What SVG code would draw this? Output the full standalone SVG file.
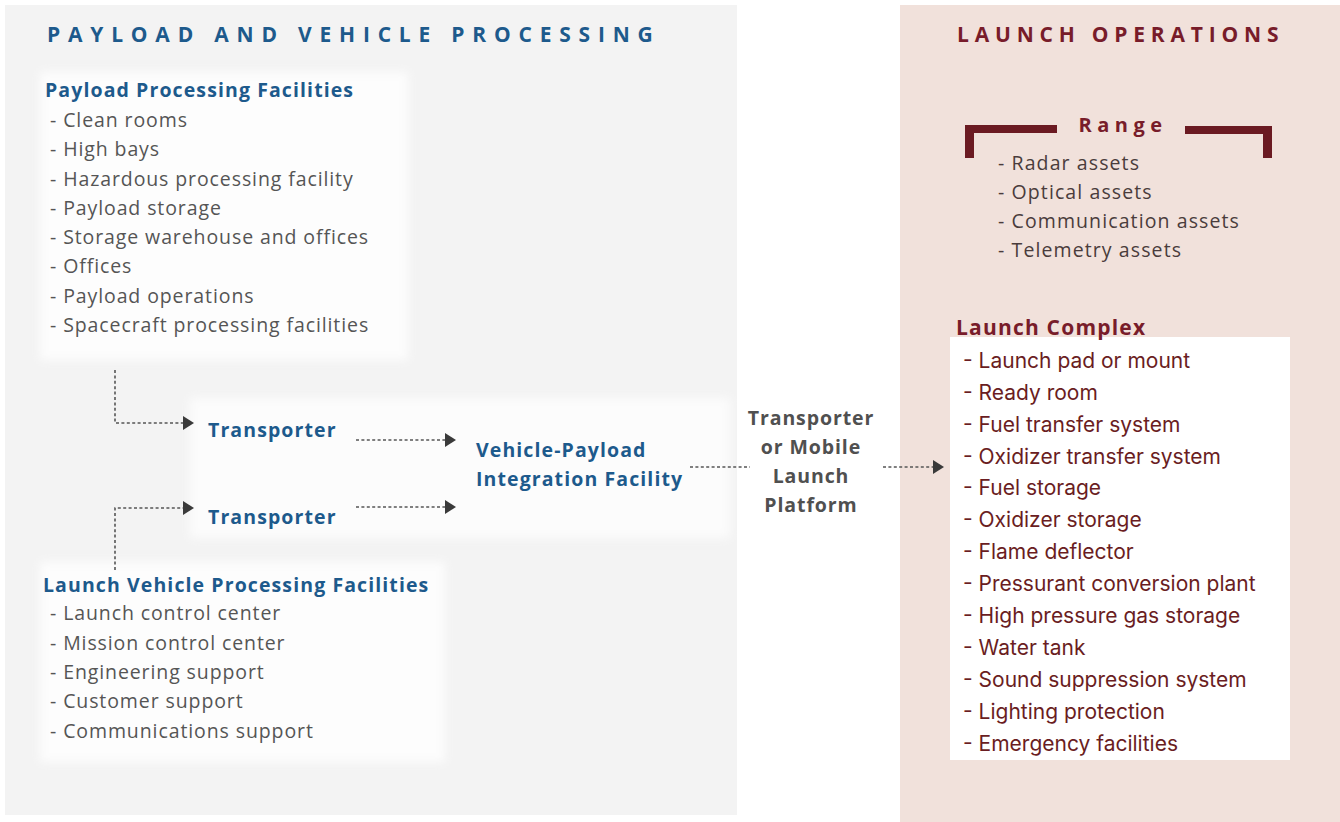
<svg xmlns="http://www.w3.org/2000/svg" width="1340" height="822" viewBox="0 0 1340 822">
  <defs>
    <filter id="soft" x="-10%" y="-10%" width="120%" height="120%">
      <feGaussianBlur stdDeviation="5"/>
    </filter>
    <marker id="tri" markerUnits="userSpaceOnUse" markerWidth="12" markerHeight="14" refX="1" refY="7" orient="auto">
      <path d="M0,0 L11,7 L0,14 z" fill="#3a3a3a"/>
    </marker>
    <style>
      .sec { font-family: "Open Sans", "Liberation Sans", sans-serif; font-weight: 700; font-size: 21px; }
      .blue { fill: #1d5a8c; }
      .red { fill: #781c2a; }
      .head { font-family: "Open Sans", "Liberation Sans", sans-serif; font-weight: 700; font-size: 19.5px; letter-spacing: 1.1px; }
      .item { font-family: "Open Sans", "Liberation Sans", sans-serif; font-size: 19.5px; fill: #555555; letter-spacing: 0.9px; }
      .ritem { font-family: "Open Sans", "Liberation Sans", sans-serif; font-size: 19.5px; fill: #4a3c3c; letter-spacing: 1.1px; }
      .lc { font-family: Inter, "Liberation Sans", sans-serif; font-size: 21px; fill: #6a1d22; }
      .mid { font-family: "Open Sans", "Liberation Sans", sans-serif; font-weight: 700; font-size: 19.5px; letter-spacing: 0.9px; fill: #505050; text-anchor: middle; }
      .dot { fill: none; stroke: #555; stroke-width: 1.6; stroke-dasharray: 3 2.4; }
    </style>
  </defs>

  <!-- page background -->
  <rect x="0" y="0" width="1340" height="822" fill="#ffffff"/>

  <!-- left panel: payload and vehicle processing -->
  <g id="panel-processing">
    <rect x="5" y="5" width="732" height="810" fill="#f3f3f3"/>
    <g filter="url(#soft)">
      <rect x="40" y="72" width="368" height="288" fill="#fdfdfd"/>
      <rect x="190" y="398" width="540" height="140" fill="#fcfcfc"/>
      <rect x="40" y="562" width="405" height="200" fill="#fdfdfd"/>
    </g>
    <text class="sec blue" x="47" y="42" style="letter-spacing:7.8px">PAYLOAD AND VEHICLE PROCESSING</text>
  </g>

  <!-- right panel: launch operations -->
  <g id="panel-launch">
    <rect x="900" y="5" width="440" height="817" fill="#f1e1db"/>
    <text class="sec red" x="957" y="42" style="letter-spacing:5.8px">LAUNCH OPERATIONS</text>
  </g>

  <!-- payload processing facilities -->
  <g id="payload-facilities">
    <text class="head blue" x="45" y="97">Payload Processing Facilities</text>
    <text class="item" x="50" y="127">- Clean rooms</text>
    <text class="item" x="50" y="156">- High bays</text>
    <text class="item" x="50" y="186">- Hazardous processing facility</text>
    <text class="item" x="50" y="215">- Payload storage</text>
    <text class="item" x="50" y="244">- Storage warehouse and offices</text>
    <text class="item" x="50" y="273">- Offices</text>
    <text class="item" x="50" y="303">- Payload operations</text>
    <text class="item" x="50" y="332">- Spacecraft processing facilities</text>
  </g>

  <!-- transporters -->
  <g id="transporter-payload">
    <text class="head blue" x="208" y="437">Transporter</text>
  </g>
  <g id="transporter-vehicle">
    <text class="head blue" x="208" y="524">Transporter</text>
  </g>

  <!-- integration facility -->
  <g id="integration-facility">
    <text class="head blue" x="476" y="457">Vehicle-Payload</text>
    <text class="head blue" x="476" y="486">Integration Facility</text>
  </g>

  <!-- mobile launch platform -->
  <g id="mobile-platform">
    <text class="mid" x="811" y="425">Transporter</text>
    <text class="mid" x="811" y="454">or Mobile</text>
    <text class="mid" x="811" y="483">Launch</text>
    <text class="mid" x="811" y="512">Platform</text>
  </g>

  <!-- launch vehicle processing facilities -->
  <g id="vehicle-facilities">
    <text class="head blue" x="43" y="592">Launch Vehicle Processing Facilities</text>
    <text class="item" x="50" y="620">- Launch control center</text>
    <text class="item" x="50" y="650">- Mission control center</text>
    <text class="item" x="50" y="679">- Engineering support</text>
    <text class="item" x="50" y="708">- Customer support</text>
    <text class="item" x="50" y="738">- Communications support</text>
  </g>

  <!-- range -->
  <g id="range">
    <rect x="965" y="125" width="92" height="8" fill="#6b1a22"/>
    <rect x="965" y="125" width="9" height="33" fill="#6b1a22"/>
    <rect x="1185" y="126" width="87" height="8" fill="#6b1a22"/>
    <rect x="1263" y="126" width="9" height="32" fill="#6b1a22"/>
    <text class="sec red" x="1123" y="132" text-anchor="middle" style="font-size:20px;letter-spacing:5.5px">Range</text>
    <text class="ritem" x="998" y="170">- Radar assets</text>
    <text class="ritem" x="998" y="199">- Optical assets</text>
    <text class="ritem" x="998" y="228">- Communication assets</text>
    <text class="ritem" x="998" y="257">- Telemetry assets</text>
  </g>

  <!-- launch complex -->
  <g id="launch-complex">
    <rect x="950" y="337" width="340" height="423" fill="#ffffff"/>
    <text class="head red" x="956" y="335" style="font-size:21px;letter-spacing:1.2px">Launch Complex</text>
    <text class="lc" x="963" y="368">- Launch pad or mount</text>
    <text class="lc" x="963" y="400">- Ready room</text>
    <text class="lc" x="963" y="432">- Fuel transfer system</text>
    <text class="lc" x="963" y="464">- Oxidizer transfer system</text>
    <text class="lc" x="963" y="495">- Fuel storage</text>
    <text class="lc" x="963" y="527">- Oxidizer storage</text>
    <text class="lc" x="963" y="559">- Flame deflector</text>
    <text class="lc" x="963" y="591">- Pressurant conversion plant</text>
    <text class="lc" x="963" y="623">- High pressure gas storage</text>
    <text class="lc" x="963" y="655">- Water tank</text>
    <text class="lc" x="963" y="687">- Sound suppression system</text>
    <text class="lc" x="963" y="719">- Lighting protection</text>
    <text class="lc" x="963" y="751">- Emergency facilities</text>
  </g>

  <!-- connectors -->
  <g id="connectors">
    <path class="dot" d="M115,370 V423 H184" marker-end="url(#tri)"/>
    <path class="dot" d="M356,440 H446" marker-end="url(#tri)"/>
    <path class="dot" d="M115,570 V508 H184" marker-end="url(#tri)"/>
    <path class="dot" d="M356,507 H446" marker-end="url(#tri)"/>
    <path class="dot" d="M690,467 H750"/>
    <path class="dot" d="M883,467 H934" marker-end="url(#tri)"/>
  </g>
</svg>
